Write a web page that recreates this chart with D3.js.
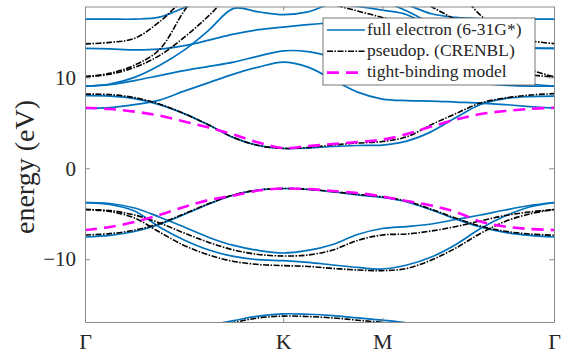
<!DOCTYPE html>
<html>
<head>
<meta charset="utf-8">
<script src="https://cdn.jsdelivr.net/npm/d3@7"></script>
<style>
body { margin: 0; background: #fff; }
</style>
</head>
<body>
<script>
var w = 564;
var h = 353;
var serif = "'Liberation Serif', 'DejaVu Serif', serif";

// path coordinate along G-K-M-G (hexagonal BZ, a = 1)
var kPath = [0, 0.524, 1.047, 1.571, 2.094, 2.618, 3.142, 3.665, 4.189,
             4.712, 5.236, 5.760, 6.283,
             6.801, 7.320, 7.838, 8.356, 8.875, 9.393, 9.911];
var kTicks = [0, 4.189, 6.283, 9.911];
var kLabels = ["Γ", "K", "M", "Γ"];
var yTicks = [-10, 0, 10];

// full electron (6-31G*) bands, eV
var feLow = [-19.5, -19.4, -19.0, -18.4, -17.8, -17.25, -16.75, -16.25, -16.0, -16.05, -16.2, -16.45, -16.7, -17.0, -17.5, -18.2, -18.9, -19.4, -19.7, -19.8];
var feV3 = [-3.76, -3.98, -4.69, -6.45, -7.88, -8.98, -9.69, -10.05, -10.15, -10.35, -10.63, -10.90, -11.07, -10.63, -9.75, -8.37, -6.62, -5.24, -4.25, -3.76];
var feV2 = [-3.76, -3.87, -4.36, -5.35, -6.45, -7.60, -8.48, -9.03, -9.31, -9.03, -8.37, -7.27, -6.62, -6.40, -6.12, -5.63, -5.13, -4.58, -4.09, -3.76];
var feV1 = [-7.55, -7.38, -6.95, -6.18, -5.08, -3.92, -2.93, -2.38, -2.22, -2.33, -2.60, -2.93, -3.21, -3.70, -4.58, -5.57, -6.45, -7.05, -7.38, -7.55];
var feC1 = [8.00, 7.95, 7.67, 7.01, 6.02, 4.76, 3.38, 2.51, 2.18, 2.23, 2.40, 2.51, 2.56, 3.00, 4.04, 5.58, 7.03, 7.67, 7.89, 7.95];
var feC2 = [6.59, 6.68, 7.01, 7.51, 8.49, 9.43, 10.36, 11.13, 11.68, 11.13, 9.76, 8.38, 7.62, 7.45, 7.40, 7.29, 7.18, 7.01, 6.79, 6.62];
var feC3 = [9.04, 9.21, 9.65, 10.20, 10.75, 11.21, 11.68, 12.34, 12.92, 12.84, 12.23, 11.57, 11.02, 10.47, 10.03, 9.65, 9.37, 9.15, 9.04, 9.04];
var feC4 = [9.04, 9.26, 10.0, 11.3, 13.0, 15.2, 17.6, 17.2, 16.9, 17.2, 18.1, 17.8, 17.4, 16.9, 15.4, 13.3, 11.4, 10.0, 9.3, 9.04];
var feC5 = [13.19, 13.13, 13.02, 13.11, 13.49, 14.10, 14.76, 15.25, 15.53, 15.80, 16.02, 16.19, 16.24, 15.97, 15.31, 14.43, 13.77, 13.38, 13.22, 13.19];
var feC6 = [16.41, 16.41, 16.41, 16.63, 17.67, 18.8, 19.5, 20, 20, 20, 19.8, 19.4, 18.8, 18.0, 17.0, 16.6, 16.45, 16.42, 16.41, 16.41];
var feC7 = [22, 22, 22, 22, 22, 22, 22, 21.5, 21, 20.5, 20, 19, 18.4, 17.3, 15.9, 14.6, 13.8, 13.4, 13.25, 13.2];

// pseudopotential (CRENBL) bands, eV
var ppLow = [-19.7, -19.6, -19.2, -18.6, -18.0, -17.45, -16.95, -16.45, -16.25, -16.3, -16.45, -16.7, -16.95, -17.25, -17.75, -18.4, -19.1, -19.6, -19.9, -20.0];
var ppV3 = [-4.53, -4.75, -5.46, -7.00, -8.48, -9.53, -10.24, -10.57, -10.70, -10.79, -11.01, -11.18, -11.25, -11.01, -10.08, -8.76, -7.16, -5.85, -5.02, -4.53];
var ppV2 = [-4.53, -4.64, -5.13, -6.01, -7.11, -8.15, -8.98, -9.47, -9.64, -9.53, -8.98, -7.93, -7.33, -7.22, -6.89, -6.40, -5.79, -5.19, -4.80, -4.53];
var ppV1 = [-7.33, -7.18, -6.80, -6.08, -5.00, -3.88, -2.92, -2.38, -2.22, -2.31, -2.55, -2.86, -3.13, -3.62, -4.50, -5.48, -6.35, -6.92, -7.22, -7.36];
var ppC1 = [8.16, 8.11, 7.78, 7.07, 6.02, 4.76, 3.38, 2.51, 2.20, 2.29, 2.56, 2.78, 2.95, 3.47, 4.81, 6.02, 7.18, 7.73, 8.05, 8.22];
var ppC2 = [10.07, 10.35, 11.1, 12.4, 14.4, 16.8, 19.5, 21, 21.5, 19.5, 18.1, 17.3, 16.6, 15.8, 14.6, 13.2, 11.9, 10.9, 10.3, 10.07];
var ppC3 = [10.07, 10.45, 11.35, 13.05, 17.3, 21, 23, 24, 24, 23.5, 22.5, 21, 20.3, 19.6, 17.8, 16.3, 14.4, 12.4, 10.9, 10.07];
var ppC4 = [13.69, 13.85, 14.3, 16.1, 18.6, 20.5, 22, 23, 23.5, 23.5, 23, 22.5, 22, 21.3, 20.5, 19.6, 16.85, 14.8, 14.05, 13.72];

// tight-binding model, eV
var tbV = [-6.78, -6.45, -5.90, -5.13, -4.25, -3.48, -2.99, -2.44, -2.22, -2.27, -2.49, -2.71, -3.10, -3.59, -4.09, -4.80, -5.85, -6.40, -6.67, -6.78];
var tbC = [6.66, 6.52, 6.24, 5.80, 5.14, 4.48, 3.71, 2.84, 2.23, 2.45, 2.67, 2.89, 3.16, 3.77, 4.59, 5.36, 5.97, 6.30, 6.54, 6.66];

var fullBands = [feLow, feV3, feV2, feV1, feC1, feC2, feC3, feC4, feC5, feC6, feC7];
var pseudoBands = [ppLow, ppV3, ppV2, ppV1, ppC1, ppC2, ppC3, ppC4];
var tbBands = [tbV, tbC];

var legendNames = ["full electron (6-31G*)", "pseudop. (CRENBL)", "tight-binding model"];

var x = d3.scaleLinear().domain([0, 9.911]).range([85, 554]);
var y = d3.scaleLinear().domain([-16.9, 17.8]).range([322, 6.5]);

var styles = [
    {stroke: "#0072BD", width: 1.7, dash: null},
    {stroke: "#000000", width: 1.6, dash: "6,1.5,1.5,1.5"},
    {stroke: "#FF00FF", width: 2.6, dash: "12,7"}
];

var svg = d3.select("body")
    .append("svg")
    .attr("width", w)
    .attr("height", h);

svg.append("defs").append("clipPath").attr("id", "plotclip")
    .append("rect")
    .attr("x", x(0)).attr("y", y(17.8))
    .attr("width", x(9.911) - x(0))
    .attr("height", y(-16.9) - y(17.8));

var line = d3.line()
    .x(function(d, i) { return x(kPath[i]); })
    .y(function(d) { return y(d); })
    .curve(d3.curveCatmullRom.alpha(0.5));

var plot = svg.append("g").attr("clip-path", "url(#plotclip)");

[fullBands, pseudoBands, tbBands].forEach(function(set, s) {
    plot.append("g")
        .selectAll("path")
        .data(set)
        .enter()
        .append("path")
        .attr("d", line)
        .attr("fill", "none")
        .attr("stroke", styles[s].stroke)
        .attr("stroke-width", styles[s].width)
        .attr("stroke-dasharray", styles[s].dash);
});

// axes (box with inward ticks)
var axisColor = "#8a8a8a";
function styleAxis(g) {
    g.attr("font-family", serif);
    g.selectAll(".domain").attr("stroke", axisColor);
    g.selectAll(".tick line").attr("stroke", axisColor);
    g.selectAll("text").attr("fill", "#262626").style("font-family", serif);
}

svg.append("g")
    .attr("transform", "translate(" + x(0) + ",0)")
    .call(d3.axisLeft(y).tickValues(yTicks).tickSizeInner(-5).tickSizeOuter(0).tickPadding(9))
    .call(styleAxis)
    .selectAll("text")
    .style("font-size", "21px");

svg.append("g")
    .attr("transform", "translate(" + x(9.911) + ",0)")
    .call(d3.axisRight(y).tickValues(yTicks).tickSizeInner(-5).tickSizeOuter(0).tickFormat(""))
    .call(styleAxis);

svg.append("g")
    .attr("transform", "translate(0," + y(-16.9) + ")")
    .call(d3.axisBottom(x).tickValues(kTicks).tickSizeInner(-4).tickSizeOuter(0).tickPadding(11)
        .tickFormat(function(d, i) { return kLabels[i]; }))
    .call(styleAxis)
    .selectAll("text")
    .style("font-size", "22px");

svg.append("g")
    .attr("transform", "translate(0," + y(17.8) + ")")
    .call(d3.axisTop(x).tickValues(kTicks).tickSizeInner(-4).tickSizeOuter(0).tickFormat(""))
    .call(styleAxis);

svg.append("text")
    .attr("transform", "translate(34,167) rotate(-90)")
    .attr("text-anchor", "middle")
    .attr("fill", "#262626")
    .style("font-family", serif)
    .style("font-size", "28px")
    .text("energy (eV)");

// legend
var legend = svg.append("g").attr("transform", "translate(323,18)");
legend.append("rect")
    .attr("width", 212)
    .attr("height", 67)
    .attr("fill", "#fff")
    .attr("stroke", "#555")
    .attr("stroke-width", 0.8);

legendNames.forEach(function(name, i) {
    var ly = 12 + i * 21.3;
    legend.append("line")
        .attr("x1", 4).attr("x2", 42)
        .attr("y1", ly).attr("y2", ly)
        .attr("stroke", styles[i].stroke)
        .attr("stroke-width", styles[i].width)
        .attr("stroke-dasharray", styles[i].dash);
    legend.append("text")
        .attr("x", 44)
        .attr("y", ly + 4.8)
        .attr("fill", "#262626")
        .style("font-family", serif)
        .style("font-size", "17.5px")
        .text(name);
});
</script>
</body>
</html>
